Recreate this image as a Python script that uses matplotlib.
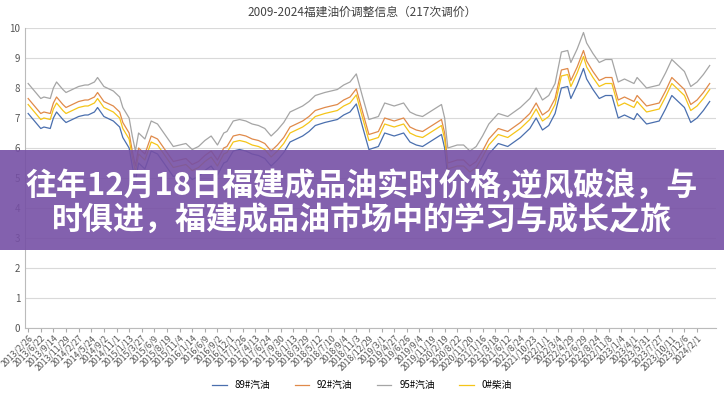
import matplotlib
matplotlib.use("Agg")
import matplotlib.pyplot as plt
from matplotlib.patches import Rectangle
from matplotlib import font_manager as fm

cjk = sorted(set(f.name for f in fm.fontManager.ttflist if "CJK" in f.name and "Sans" in f.name))
pref = [n for n in cjk if n.endswith("SC")] or cjk
plt.rcParams["font.family"] = (pref[:1] if pref else []) + ["DejaVu Sans"]

adj_no = [0,2,4,5,7,8,9,11,12,14,16,18,19,21,22,24,27,29,30,32,33,34,35,37,39,41,43,45,46,48,
          50,52,54,56,58,60,62,63,65,67,69,71,73,75,77,79,81,83,85,87,89,91,94,96,98,100,102,104,106,108,
          111,113,116,119,121,123,125,128,131,132,133,136,138,140,142,144,146,149,152,154,156,159,161,163,165,167,169,171,172,174,
          176,177,179,181,183,185,187,189,192,193,196,198,200,202,204,206,208,210,212,214,216]

p95 = [8.15,7.9,7.65,7.7,7.65,8.0,8.2,7.95,7.85,7.95,
       8.05,8.1,8.1,8.2,8.35,8.05,7.9,7.7,7.35,7.0,
       6.4,5.9,6.5,6.3,6.9,6.8,6.5,6.2,6.05,6.1,
       6.15,5.95,6.05,6.25,6.4,6.1,6.5,6.55,6.9,6.95,
       6.9,6.8,6.75,6.65,6.4,6.6,6.85,7.2,7.3,7.4,
       7.55,7.75,7.85,7.9,7.95,8.1,8.2,8.47,7.7,6.95,
       7.05,7.5,7.4,7.5,7.2,7.1,7.05,7.25,7.45,7.0,
       6.0,6.1,6.1,5.9,6.05,6.4,6.8,7.15,7.05,7.2,
       7.35,7.65,8.0,7.6,7.75,8.15,9.2,9.25,8.85,9.3,
       9.85,9.5,9.15,8.85,8.95,8.95,8.2,8.3,8.15,8.35,
       8.0,8.05,8.1,8.5,8.95,8.75,8.55,8.05,8.2,8.45,
       8.75]
p92 = [7.65,7.4,7.15,7.2,7.15,7.5,7.7,7.45,7.35,7.45,
       7.55,7.6,7.6,7.7,7.85,7.55,7.4,7.2,6.85,6.5,
       5.9,5.4,6.0,5.8,6.4,6.3,6.0,5.7,5.55,5.6,
       5.65,5.45,5.55,5.75,5.9,5.6,6.0,6.05,6.4,6.45,
       6.4,6.3,6.25,6.15,5.9,6.1,6.35,6.7,6.8,6.9,
       7.05,7.25,7.35,7.4,7.45,7.6,7.7,7.97,7.2,6.45,
       6.55,7.0,6.9,7.0,6.7,6.6,6.55,6.75,6.95,6.5,
       5.5,5.6,5.6,5.4,5.55,5.9,6.3,6.65,6.55,6.7,
       6.85,7.15,7.5,7.1,7.25,7.65,8.6,8.65,8.25,8.7,
       9.25,8.9,8.55,8.25,8.35,8.35,7.6,7.7,7.55,7.75,
       7.4,7.45,7.5,7.9,8.35,8.15,7.95,7.45,7.6,7.85,
       8.15]
p0 = [7.45,7.2,6.95,7.0,6.95,7.3,7.5,7.25,7.15,7.25,
      7.35,7.4,7.4,7.5,7.65,7.35,7.2,7.0,6.65,6.3,
      5.7,5.2,5.8,5.6,6.2,6.1,5.8,5.5,5.35,5.4,
      5.45,5.25,5.35,5.55,5.7,5.4,5.8,5.85,6.2,6.25,
      6.2,6.1,6.05,5.95,5.7,5.9,6.15,6.5,6.6,6.7,
      6.85,7.05,7.15,7.2,7.25,7.4,7.5,7.77,7.0,6.25,
      6.35,6.8,6.7,6.8,6.5,6.4,6.35,6.55,6.75,6.3,
      5.3,5.4,5.4,5.2,5.35,5.7,6.1,6.45,6.35,6.5,
      6.65,6.95,7.3,6.9,7.05,7.45,8.4,8.45,8.05,8.5,
      9.05,8.7,8.35,8.05,8.15,8.15,7.4,7.5,7.35,7.55,
      7.2,7.25,7.3,7.7,8.15,7.95,7.75,7.25,7.4,7.65,
      7.95]
p89 = [7.15,6.9,6.65,6.7,6.65,7.0,7.2,6.95,6.85,6.95,
       7.05,7.1,7.1,7.2,7.35,7.05,6.9,6.7,6.35,6.0,
       5.4,4.9,5.5,5.3,5.9,5.8,5.5,5.2,5.05,5.1,
       5.15,4.95,5.05,5.25,5.4,5.1,5.5,5.55,5.9,5.95,
       5.9,5.8,5.75,5.65,5.4,5.6,5.85,6.2,6.3,6.4,
       6.55,6.75,6.85,6.9,6.95,7.1,7.2,7.47,6.7,5.95,
       6.05,6.5,6.4,6.5,6.2,6.1,6.05,6.25,6.45,6.0,
       5.0,5.1,5.1,4.9,5.05,5.4,5.8,6.15,6.05,6.2,
       6.35,6.65,7.0,6.6,6.75,7.15,8.0,8.05,7.65,8.1,
       8.65,8.3,7.95,7.65,7.75,7.75,7.0,7.1,6.95,7.15,
       6.8,6.85,6.9,7.3,7.75,7.55,7.35,6.85,7.0,7.25,
       7.55]

tick_labels = ["2013/2/26","2013/6/22","2013/9/14","2013/11/29","2014/2/27","2014/5/24","2014/9/2","2014/11/1",
               "2015/1/13","2015/3/27","2015/6/9","2015/8/19","2015/11/4","2016/1/14","2016/6/9","2016/9/2",
               "2016/12/1","2017/1/26","2017/4/13","2017/6/24","2017/9/30","2018/1/13","2018/3/29","2018/5/12",
               "2018/7/10","2018/9/4","2018/11/3","2018/12/29","2019/3/1","2019/4/27","2019/6/26","2019/9/4",
               "2019/11/19","2020/2/19","2020/8/22","2020/11/20","2021/1/16","2021/3/18","2021/6/12","2021/8/24",
               "2021/10/23","2022/1/1","2022/3/4","2022/4/29","2022/6/29","2022/8/24","2022/11/8","2023/1/4",
               "2023/4/1","2023/5/31","2023/7/27","2023/10/11","2023/12/6","2024/2/1"]

fig = plt.figure(figsize=(7.24, 4.0), dpi=100)
ax = fig.add_axes([25/724, 0.18, 691/724, 0.75])
series = [("89#汽油", p89, "#4a6fae"), ("92#汽油", p92, "#e08a4a"),
          ("95#汽油", p95, "#a5a5a5"), ("0#柴油", p0, "#f5c518")]
for name, vals, c in series:
    ax.plot(adj_no, vals, color=c, lw=0.9, label=name)

ax.set_ylim(0, 10)
ax.set_xlim(-1, 218)
ax.set_yticks(range(0, 11))
ax.tick_params(axis="y", labelsize=7, colors="#555555", length=0)
ax.grid(axis="y", color="#d9d9d9", lw=0.8)
ax.set_axisbelow(True)
ax.set_xticks(range(0, 4 * len(tick_labels), 4))
ax.set_xticklabels(tick_labels, rotation=45, ha="right", rotation_mode="anchor", fontsize=6.3, color="#555555")
ax.tick_params(axis="x", length=3, color="#aaaaaa", pad=1)
for s in ["top", "right"]:
    ax.spines[s].set_visible(False)
ax.spines["left"].set_color("#bbbbbb")
ax.spines["bottom"].set_color("#bbbbbb")

fig.text(0.5, 0.97, "2009-2024福建油价调整信息（217次调价）", ha="center", va="center", fontsize=8.5, color="#444444")
fig.legend(loc="center", bbox_to_anchor=(0.5, 0.037), ncol=4, fontsize=7, frameon=False,
           handlelength=1.5, columnspacing=2.5)

fig.patches.append(Rectangle((0, 1 - 250/400), 1, 100/400, transform=fig.transFigure,
                             facecolor="#7650a5", alpha=0.9, edgecolor="none", zorder=5))
fig.text(0.5, 1 - 202/400, "往年12月18日福建成品油实时价格,逆风破浪，与\n时俱进，福建成品油市场中的学习与成长之旅",
         ha="center", va="center", fontsize=22.3, fontweight="bold", color="white", linespacing=1.05, zorder=6)

fig.savefig("out.png", dpi=100)
